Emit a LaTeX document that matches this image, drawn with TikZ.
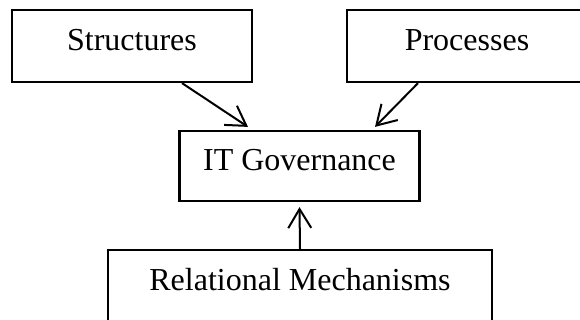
\documentclass[tikz,border=0pt]{standalone}
\usepackage{fontspec}
\setmainfont{Liberation Serif}
\usetikzlibrary{arrows.meta}
\begin{document}
\begin{tikzpicture}[x=1pt,y=-1pt,
  box/.style={draw, line width=2.2pt, inner sep=0pt, text height=20pt, text depth=10pt,
    font=\fontsize{32}{38}\selectfont},
  arr/.style={line width=2pt, -{Straight Barb[length=19pt,width=23pt]}}]
\useasboundingbox (0,0) rectangle (580,320);
\node[box, minimum width=240pt, minimum height=72pt] (S) at (132,46) {Structures};
\node[box, minimum width=240pt, minimum height=72pt] (P) at (467,46) {Processes};
\node[box, minimum width=240pt, minimum height=70pt] (IT) at (299.5,166) {IT Governance};
\node[box, minimum width=384pt, minimum height=71pt] (R) at (300,285.5) {Relational Mechanisms};
\draw[arr] ([xshift=50pt]S.south) -- ([xshift=-51.5pt,yshift=3pt]IT.north);
\draw[arr] ([xshift=-49pt]P.south) -- ([xshift=75.5pt,yshift=3pt]IT.north);
\draw[arr] (R.north) -- ([yshift=-5pt]IT.south);
\end{tikzpicture}
\end{document}
